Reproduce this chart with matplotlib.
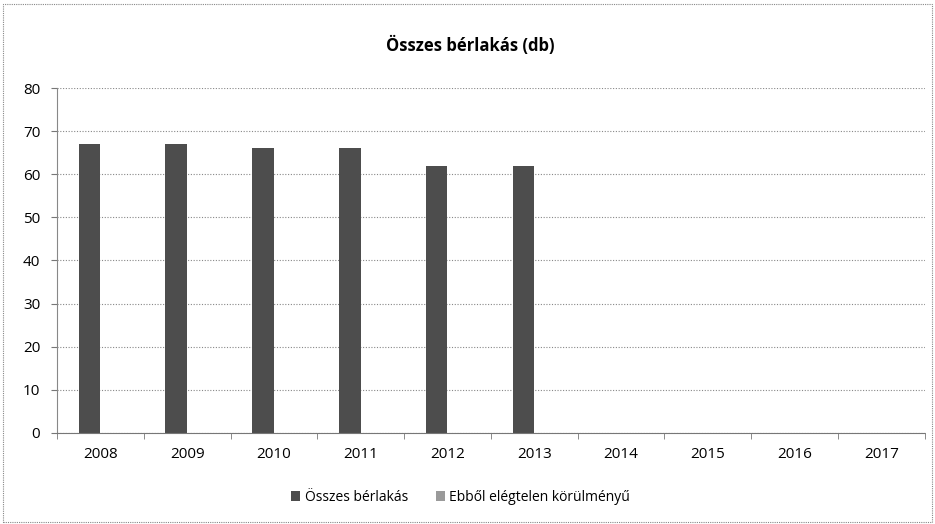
import numpy as np
import matplotlib.pyplot as plt
from matplotlib.patches import Rectangle

# adatok
evek = ['2008', '2009', '2010', '2011', '2012', '2013', '2014', '2015', '2016', '2017']
osszes = [67, 67, 66, 66, 62, 62, 0, 0, 0, 0]
elegtelen = [0, 0, 0, 0, 0, 0, 0, 0, 0, 0]

plt.rcParams['font.family'] = ['Open Sans', 'DejaVu Sans']

fig = plt.figure(figsize=(9.35, 5.24), dpi=100)
ax = fig.add_axes([0.061, 0.174, 0.928, 0.658])

x = np.arange(len(evek))
width = 0.25
ax.bar(x - width / 2, osszes, width, color='#4d4d4d', label='Összes bérlakás')
ax.bar(x + width / 2, elegtelen, width, color='#9a9a9a', label='Ebből elégtelen körülményű')

ax.set_xlim(-0.5, len(evek) - 0.5)
ax.set_ylim(0, 80)
ax.set_yticks(range(0, 81, 10))
ax.set_xticks(x)
ax.set_xticklabels(evek)
ax.set_xticks(np.arange(-0.5, len(evek), 1), minor=True)
ax.tick_params(axis='x', which='major', length=0, pad=10, labelsize=11)
ax.tick_params(axis='x', which='minor', length=4, color='#777777', direction='out')
ax.tick_params(axis='y', length=4, color='#777777', labelsize=11, pad=8)

ax.grid(axis='y', color='#888888', linestyle=(0, (1, 1.5)), linewidth=0.8)
ax.set_axisbelow(True)
for s in ['top', 'right']:
    ax.spines[s].set_visible(False)
ax.spines['left'].set_color('#888888')
ax.spines['left'].set_linestyle((0, (1, 1)))
ax.spines['bottom'].set_color('#777777')
ax.spines['bottom'].set_linestyle((0, (1, 1)))

fig.text(0.503, 0.914, 'Összes bérlakás (db)', ha='center', va='center',
         fontsize=12, fontweight='bold')

ax.legend(loc='upper center', bbox_to_anchor=(0.465, -0.13), ncol=2, frameon=False,
          fontsize=10, handlelength=0.7, handleheight=0.7, columnspacing=2.0,
          handletextpad=0.3)

# keret
fig.patches.append(Rectangle((0.003, 0.003), 0.994, 0.99, transform=fig.transFigure,
                             fill=False, edgecolor='#888888', linewidth=0.8,
                             linestyle=(0, (1, 1))))

fig.savefig('out.png', dpi=100)
